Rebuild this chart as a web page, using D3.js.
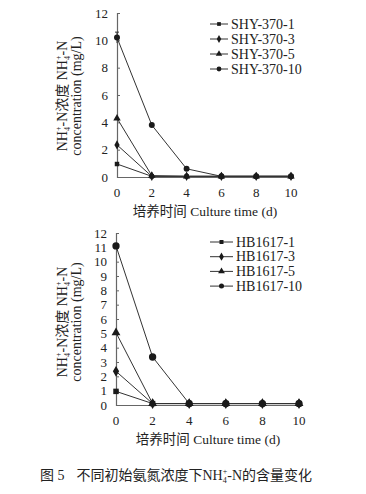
<!DOCTYPE html>
<html>
<head>
    <meta charset="utf-8">
    <title>NH4-N concentration</title>
    <script src="https://d3js.org/d3.v7.min.js"></script>
    <style>
        body { margin: 0; background: #fff; }
        text { font-family: "Liberation Serif", "Times New Roman", "Noto Sans CJK SC", serif; fill: #222; }
    </style>
</head>
<body>
<script>
    // culture days
    var days = [0, 2, 4, 6, 8, 10];

    // top panel: SHY-370
    var shyNames = ["SHY-370-1", "SHY-370-3", "SHY-370-5", "SHY-370-10"];
    var shy1 = [0.95, 0.05, 0.05, 0.05, 0.05, 0.05];
    var shy3 = [2.35, 0.05, 0.05, 0.05, 0.05, 0.05];
    var shy5 = [4.3, 0.1, 0.05, 0.05, 0.05, 0.05];
    var shy10 = [10.2, 3.8, 0.6, 0.05, 0.05, 0.05];
    var shy10Err = [0.4, 0, 0, 0, 0, 0];

    // bottom panel: HB1617
    var hbNames = ["HB1617-1", "HB1617-3", "HB1617-5", "HB1617-10"];
    var hb1 = [0.95, 0.1, 0.1, 0.1, 0.1, 0.1];
    var hb3 = [2.35, 0.1, 0.1, 0.1, 0.1, 0.1];
    var hb5 = [5.05, 0.1, 0.1, 0.1, 0.1, 0.1];
    var hb10 = [11.1, 3.35, 0.1, 0.1, 0.1, 0.1];

    var xTicks = [0, 2, 4, 6, 8, 10];
    var yTicksTop = [0, 2, 4, 6, 8, 10, 12];
    var yTicksBottom = d3.range(0, 13, 1);

    var symbols = [d3.symbolSquare, d3.symbolDiamond, d3.symbolTriangle, d3.symbolCircle];

    var svg = d3.select("body").append("svg")
        .attr("width", 366)
        .attr("height", 494);

    // NH4+ with stacked sub/superscript
    function nh4(t) {
        t.append("tspan").text("NH");
        t.append("tspan").attr("dy", 3).style("font-size", "8px").text("4");
        t.append("tspan").attr("dy", -9).attr("dx", -4).style("font-size", "8px").text("+");
    }

    function drawPanel(opt) {
        var g = svg.append("g");
        var x = d3.scaleLinear().domain([0, 10]).range(opt.xr);
        var y = d3.scaleLinear().domain([0, 12]).range(opt.yr);

        // y axis with inward ticks
        var yAxis = g.append("g")
            .attr("transform", "translate(" + opt.xr[0] + ",0)")
            .call(d3.axisRight(y).tickValues(opt.yTicks).tickSize(3).tickFormat(""));
        yAxis.select(".domain").attr("stroke", "#666").attr("stroke-width", 1.2);
        yAxis.selectAll(".tick line").attr("stroke", "#666");
        g.selectAll(".ylab")
            .data(opt.yTicks)
            .enter().append("text")
            .attr("x", opt.xr[0] - 9)
            .attr("y", function (d) { return y(d) + 4.5; })
            .attr("text-anchor", "end")
            .style("font-size", "13px")
            .text(function (d) { return d; });

        // x axis
        var xAxis = g.append("g")
            .attr("transform", "translate(0," + opt.yr[0] + ")")
            .call(d3.axisBottom(x).tickValues(xTicks).tickSize(0).tickFormat(""));
        xAxis.select(".domain").attr("stroke", "#666").attr("stroke-width", 1.2);
        g.selectAll(".xlab")
            .data(xTicks)
            .enter().append("text")
            .attr("x", function (d) { return x(d); })
            .attr("y", opt.yr[0] + 20)
            .attr("text-anchor", "middle")
            .style("font-size", "13px")
            .text(function (d) { return d; });

        // x title
        g.append("text")
            .attr("x", opt.xTitle[0])
            .attr("y", opt.xTitle[1])
            .attr("text-anchor", "middle")
            .style("font-size", "13.5px")
            .text("培养时间 Culture time (d)");

        // y title (two rotated lines)
        var yt = g.append("text")
            .attr("transform", "translate(" + 67 + "," + opt.yMid + ") rotate(-90)")
            .attr("text-anchor", "middle")
            .style("font-size", "14px");
        nh4(yt);
        yt.append("tspan").attr("dy", 6).text("-N浓度 ");
        nh4(yt);
        yt.append("tspan").attr("dy", 6).text("-N");
        g.append("text")
            .attr("transform", "translate(" + 81 + "," + opt.yMid + ") rotate(-90)")
            .attr("text-anchor", "middle")
            .style("font-size", "14px")
            .text("concentration (mg/L)");

        var line = d3.line()
            .x(function (d, i) { return x(days[i]); })
            .y(function (d) { return y(d); });

        opt.series.forEach(function (s) {
            g.append("path")
                .datum(s)
                .attr("fill", "none")
                .attr("stroke", "#333")
                .attr("stroke-width", 1)
                .attr("d", line);
        });

        // error bars on the highest series
        if (opt.err) {
            opt.err.forEach(function (e, i) {
                if (e > 0) {
                    var v = opt.series[3][i];
                    g.append("line")
                        .attr("x1", x(days[i])).attr("x2", x(days[i]))
                        .attr("y1", y(v - e)).attr("y2", y(v + e))
                        .attr("stroke", "#333");
                    g.append("line")
                        .attr("x1", x(days[i]) - 2).attr("x2", x(days[i]) + 2)
                        .attr("y1", y(v + e)).attr("y2", y(v + e))
                        .attr("stroke", "#333");
                }
            });
        }

        opt.series.forEach(function (s, k) {
            g.selectAll(".m" + k)
                .data(s)
                .enter().append("path")
                .attr("transform", function (d, i) {
                    return "translate(" + x(days[i]) + "," + y(d) + ")";
                })
                .attr("d", d3.symbol().type(symbols[k]).size(opt.msize[k]))
                .attr("fill", "#1a1a1a");
        });

        // legend
        opt.names.forEach(function (n, k) {
            var ly = opt.legY + k * opt.legStep;
            g.append("line")
                .attr("x1", opt.legX).attr("x2", opt.legX + opt.legLen)
                .attr("y1", ly).attr("y2", ly)
                .attr("stroke", "#333");
            g.append("path")
                .attr("transform", "translate(" + (opt.legX + opt.legLen / 2) + "," + ly + ")")
                .attr("d", d3.symbol().type(symbols[k]).size(opt.legSize[k]))
                .attr("fill", "#1a1a1a");
            g.append("text")
                .attr("x", opt.legX + opt.legLen + 3)
                .attr("y", ly + 4.5)
                .style("font-size", "14px")
                .text(n);
        });
    }

    drawPanel({
        xr: [117, 291], yr: [177, 13],
        yTicks: yTicksTop,
        series: [shy1, shy3, shy5, shy10],
        err: shy10Err,
        names: shyNames,
        msize: [20, 24, 24, 28],
        legSize: [14, 18, 18, 18],
        legX: 210, legLen: 18, legY: 24, legStep: 15,
        xTitle: [205, 216],
        yMid: 96
    });

    drawPanel({
        xr: [116, 299], yr: [405, 233],
        yTicks: yTicksBottom,
        series: [hb1, hb3, hb5, hb10],
        err: null,
        names: hbNames,
        msize: [30, 34, 34, 42],
        legSize: [16, 20, 20, 20],
        legX: 210, legLen: 23, legY: 242, legStep: 14.7,
        xTitle: [208, 444],
        yMid: 322
    });

    // caption
    var cap = svg.append("text")
        .attr("x", 40)
        .attr("y", 480)
        .style("font-size", "14px");
    cap.append("tspan").text("图 5");
    cap.append("tspan").attr("dx", 12).text("不同初始氨氮浓度下");
    nh4(cap);
    cap.append("tspan").attr("dy", 6).text("-N的含量变化");
</script>
</body>
</html>
